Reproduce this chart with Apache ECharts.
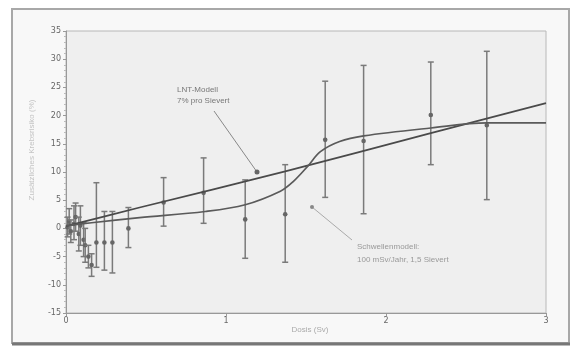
<!DOCTYPE html>
<html>
<head>
<meta charset="utf-8">
<script src="https://cdn.jsdelivr.net/npm/echarts@6/dist/echarts.min.js"></script>
<style>
  html, body { margin: 0; padding: 0; background: #fff; }
  #main { width: 571px; height: 350px; }
</style>
</head>
<body>
<div id="main"></div>
<script>
// measured points with error bars (dose in Sv, excess risk in %)
const errX = [0.01, 0.02, 0.03, 0.05, 0.06, 0.08, 0.09, 0.11, 0.12, 0.14, 0.16, 0.19, 0.24, 0.29, 0.39, 0.61, 0.86, 1.12, 1.37, 1.62, 1.86, 2.28, 2.63];
const errY = [0.2, 1.2, -0.5, 0.8, 2.0, -1.0, 0.5, -2.0, -3.0, -5.0, -6.5, -2.5, -2.5, -2.5, 0, 4.6, 6.3, 1.6, 2.5, 15.7, 15.5, 20.1, 18.3];
const errLow = [-1.5, -1.0, -2.5, -2.0, -0.5, -4.0, -3.0, -5.0, -6.0, -7.0, -8.5, -6.9, -7.4, -7.9, -3.4, 0.4, 0.9, -5.3, -6.0, 5.5, 2.6, 11.3, 5.1];
const errHigh = [2.0, 3.5, 1.5, 4.0, 4.5, 2.0, 4.0, 1.0, 0.0, -3.0, -4.5, 8.1, 3.0, 3.0, 3.7, 9.0, 12.5, 8.6, 11.3, 26.1, 28.9, 29.5, 31.4];

// LNT model line
const lntX = [0, 0.46, 1.37, 2.28, 3];
const lntY = [0.4, 3.7, 10.1, 16.9, 22.2];

// threshold model curve
const sigX = [0, 0.16, 0.46, 0.87, 1.12, 1.34, 1.42, 1.51, 1.59, 1.71, 1.86, 2.28, 2.63, 3];
const sigY = [0.5, 1.0, 1.9, 3.0, 4.2, 6.6, 8.3, 11.0, 13.6, 15.4, 16.4, 17.8, 18.7, 18.7];

const yTicks = [-15, -10, -5, 0, 5, 10, 15, 20, 25, 30, 35];
const xTicks = [0, 1, 2, 3];

const chart = echarts.init(document.getElementById('main'));

const errData = errX.map((x, i) => [x, errY[i], errLow[i], errHigh[i]]);

chart.setOption({
  backgroundColor: '#fff',
  animation: false,
  textStyle: { fontFamily: 'DejaVu Sans' },
  grid: {
    left: 66, right: 25, top: 31, bottom: 37,
    show: true, backgroundColor: '#efefef', borderColor: '#b8b8b8', borderWidth: 1
  },
  graphic: [
    { type: 'rect', z: -10, shape: { x: 12, y: 9, width: 557, height: 334 },
      style: { fill: '#f8f8f8', stroke: '#a8a8a8', lineWidth: 2 } },
    { type: 'line', z: -9, shape: { x1: 12, y1: 344, x2: 570, y2: 344 },
      style: { stroke: '#777', lineWidth: 3 } },
    { type: 'text', x: 32, y: 150, rotation: Math.PI / 2, style: {
      text: 'Zusätzliches Krebsrisiko (%)', fill: '#c4c4c4', fontSize: 8,
      align: 'center', verticalAlign: 'middle' } },
    { type: 'text', x: 310, y: 330, style: {
      text: 'Dosis (Sv)', fill: '#aaa', fontSize: 8, align: 'center', verticalAlign: 'middle' } },
    // LNT annotation
    { type: 'text', x: 177, y: 84, z: 20, style: {
      text: 'LNT-Modell\n7% pro Sievert', fill: '#777', fontSize: 8, lineHeight: 11 } },
    { type: 'line', z: 20, shape: { x1: 214, y1: 111, x2: 257, y2: 172 },
      style: { stroke: '#888', lineWidth: 1 } },
    { type: 'circle', z: 20, shape: { cx: 257, cy: 172, r: 2.5 }, style: { fill: '#666' } },
    // threshold annotation
    { type: 'text', x: 357, y: 240, z: 20, style: {
      text: 'Schwellenmodell:\n100 mSv/Jahr, 1,5 Sievert', fill: '#999', fontSize: 8, lineHeight: 13 } },
    { type: 'line', z: 20, shape: { x1: 352, y1: 240, x2: 312, y2: 207 },
      style: { stroke: '#aaa', lineWidth: 1 } },
    { type: 'circle', z: 20, shape: { cx: 312, cy: 207, r: 2 }, style: { fill: '#888' } }
  ],
  xAxis: {
    type: 'value', min: 0, max: 3, interval: 1,
    axisLine: { show: true, onZero: false, lineStyle: { color: '#999' } },
    axisTick: { show: true, length: 3, lineStyle: { color: '#999' } },
    axisLabel: { color: '#666', fontSize: 8, margin: 4,
      formatter: v => xTicks.includes(v) ? String(v) : '' },
    splitLine: { show: false }
  },
  yAxis: {
    type: 'value', min: -15, max: 35, interval: 5,
    axisLine: { show: true, onZero: false, lineStyle: { color: '#999' } },
    axisTick: { show: true, length: 3, inside: false, lineStyle: { color: '#999' } },
    minorTick: { show: true, splitNumber: 5, length: 2, lineStyle: { color: '#bbb' } },
    axisLabel: { color: '#666', fontSize: 8, margin: 5,
      formatter: v => yTicks.includes(v) ? String(v) : '' },
    splitLine: { show: false }
  },
  series: [
    {
      type: 'custom',
      name: 'Messwerte',
      data: errData,
      z: 3,
      renderItem: (params, api) => {
        const x = api.value(0);
        const mid = api.coord([x, api.value(1)]);
        const lo = api.coord([x, api.value(2)]);
        const hi = api.coord([x, api.value(3)]);
        const cap = 3;
        const st = { stroke: '#7a7a7a', lineWidth: 1.5 };
        return {
          type: 'group',
          children: [
            { type: 'line', shape: { x1: hi[0], y1: hi[1], x2: lo[0], y2: lo[1] }, style: st },
            { type: 'line', shape: { x1: hi[0] - cap, y1: hi[1], x2: hi[0] + cap, y2: hi[1] }, style: st },
            { type: 'line', shape: { x1: lo[0] - cap, y1: lo[1], x2: lo[0] + cap, y2: lo[1] }, style: st },
            { type: 'circle', shape: { cx: mid[0], cy: mid[1], r: 2.3 }, style: { fill: '#666' } }
          ]
        };
      }
    },
    {
      type: 'line', name: 'LNT-Modell',
      data: lntX.map((x, i) => [x, lntY[i]]),
      smooth: 0.3, showSymbol: false, z: 4,
      lineStyle: { color: '#4a4a4a', width: 1.7 }
    },
    {
      type: 'line', name: 'Schwellenmodell',
      data: sigX.map((x, i) => [x, sigY[i]]),
      smooth: 0.35, showSymbol: false, z: 4,
      lineStyle: { color: '#5a5a5a', width: 1.7 }
    }
  ]
});
</script>
</body>
</html>
